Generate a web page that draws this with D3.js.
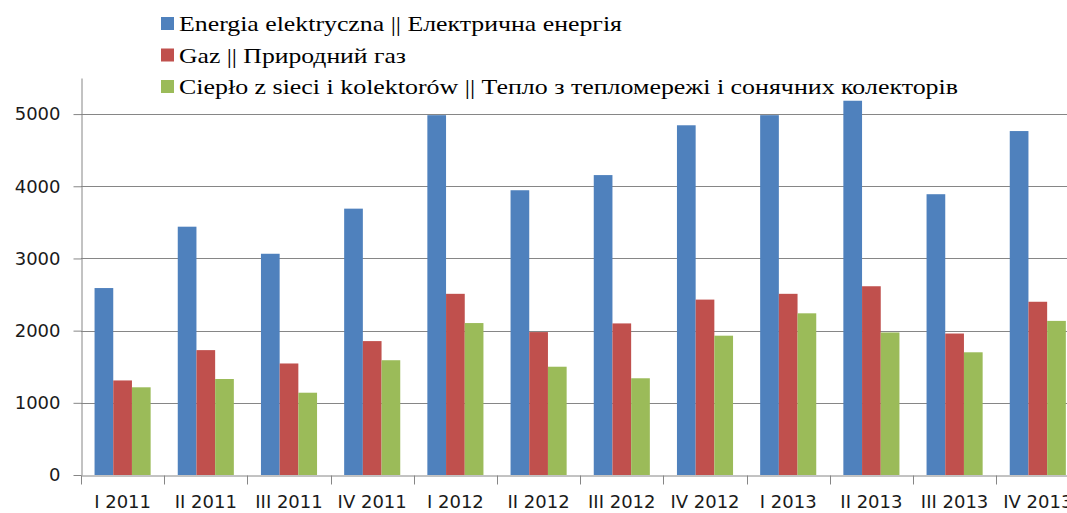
<!DOCTYPE html>
<html>
<head>
<meta charset="utf-8">
<script src="https://cdn.jsdelivr.net/npm/d3@7/dist/d3.min.js"></script>
<style>
  html, body { margin: 0; padding: 0; background: #fff; }
  svg { display: block; }
</style>
</head>
<body>
<div id="chart"></div>
<script>
// dane
const quarters = ['I 2011', 'II 2011', 'III 2011', 'IV 2011', 'I 2012', 'II 2012',
  'III 2012', 'IV 2012', 'I 2013', 'II 2013', 'III 2013', 'IV 2013']
const seriesNames = [
  'Energia elektryczna || Електрична енергія',
  'Gaz || Природний газ',
  'Ciepło z sieci i kolektorów || Тепло з тепломережі і сонячних колекторів'
]
const energia = [2590, 3440, 3065, 3690, 4985, 3945, 4155, 4845, 4985, 5185, 3890, 4765]
const gaz = [1310, 1730, 1545, 1855, 2510, 1980, 2100, 2430, 2510, 2615, 1960, 2400]
const cieplo = [1215, 1330, 1140, 1590, 2105, 1500, 1340, 1930, 2240, 1975, 1700, 2135]
const yTicks = [0, 1000, 2000, 3000, 4000, 5000]
const colors = ['#4F81BD', '#C0504D', '#9BBB59']

const W = 1067, H = 513
const svg = d3.select('#chart').append('svg')
  .attr('width', W)
  .attr('height', H)

const x0 = 81, step = 83.2
const x = d3.scaleBand()
  .domain(quarters)
  .range([x0, x0 + step * quarters.length])
  .paddingInner(0)
  .paddingOuter(0)

const x1 = d3.scaleBand()
  .domain(d3.range(3))
  .range([0, x.bandwidth()])
  .paddingInner(0)
  .paddingOuter(0.725)

const y = d3.scaleLinear()
  .domain([0, 5500])
  .range([475, 78])

const gridColor = '#868686'

// linie siatki
svg.append('g')
  .selectAll('line')
  .data(yTicks.filter(d => d > 0))
  .enter()
  .append('line')
  .attr('x1', x0)
  .attr('x2', W)
  .attr('y1', d => Math.round(y(d)) + 0.5)
  .attr('y2', d => Math.round(y(d)) + 0.5)
  .attr('stroke', gridColor)
  .attr('stroke-width', 1)

// słupki
const allSeries = [energia, gaz, cieplo]
const groups = svg.append('g')
  .selectAll('g')
  .data(quarters)
  .enter()
  .append('g')
  .attr('transform', d => `translate(${x(d)},0)`)

groups.selectAll('rect')
  .data((q, qi) => allSeries.map((s, si) => ({ si, v: s[qi] })))
  .enter()
  .append('rect')
  .attr('x', d => x1(d.si))
  .attr('width', x1.bandwidth())
  .attr('y', d => y(d.v))
  .attr('height', d => y(0) - y(d.v))
  .attr('fill', d => colors[d.si])

// oś Y
const yAxis = svg.append('g')
  .attr('transform', `translate(${x0 + 0.5},0)`)
  .call(d3.axisLeft(y).tickValues(yTicks).tickFormat(d3.format('d'))
    .tickSize(8).tickPadding(13).tickSizeOuter(0))
yAxis.select('.domain').attr('stroke', gridColor)
yAxis.selectAll('.tick line').attr('stroke', gridColor)
yAxis.selectAll('text')
  .attr('font-family', 'DejaVu Sans')
  .attr('font-size', 18)
  .attr('fill', '#1a1a1a')

// oś X
const xAxis = svg.append('g')
  .attr('transform', `translate(0,${Math.round(y(0)) + 0.5})`)
  .call(d3.axisBottom(x).tickSize(0).tickPadding(20).tickSizeOuter(0))
xAxis.select('.domain').attr('stroke', gridColor)
xAxis.selectAll('text')
  .attr('font-family', 'DejaVu Sans')
  .attr('font-size', 18)
  .attr('fill', '#1a1a1a')

// kreski między kategoriami
xAxis.append('g')
  .selectAll('line')
  .data(quarters)
  .enter()
  .append('line')
  .attr('x1', d => Math.round(x(d)) + 0.5)
  .attr('x2', d => Math.round(x(d)) + 0.5)
  .attr('y1', 0)
  .attr('y2', 9)
  .attr('stroke', gridColor)

// legenda
const legendW = [443, 227, 779]
const legend = svg.append('g')
  .selectAll('g')
  .data(seriesNames)
  .enter()
  .append('g')
  .attr('transform', (d, i) => `translate(161,${17 + i * 31.5})`)

legend.append('rect')
  .attr('width', 13)
  .attr('height', 13)
  .attr('fill', (d, i) => colors[i])

legend.append('text')
  .attr('x', 18)
  .attr('y', 14)
  .attr('font-family', 'Liberation Serif, Times New Roman, serif')
  .attr('font-size', 22)
  .attr('fill', '#000')
  .attr('textLength', (d, i) => legendW[i])
  .attr('lengthAdjust', 'spacingAndGlyphs')
  .text(d => d)
</script>
</body>
</html>
